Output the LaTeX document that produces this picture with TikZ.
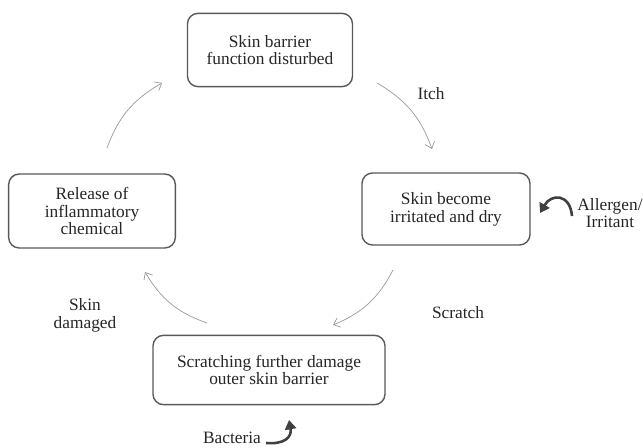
\documentclass[tikz,border=0pt]{standalone}
\usepackage{fontspec}
\setmainfont{Liberation Serif}
\usepackage{tikz}
\usetikzlibrary{arrows.meta,positioning}
\tikzset{>=stealth}

\begin{document}
\begin{tikzpicture}[x=0.03cm, y=-0.03cm,
	every node/.style={font=\fontsize{14.8}{15.2}\selectfont, align=center, text=black!85},
	stage/.style={draw=black!65, line width=1.2pt, rounded corners=9pt, fill=white},
	cyc/.style={->, draw=black!40, line width=0.6pt, >={Straight Barb[length=1.8mm,width=3mm]}},
	curl/.style={-{Triangle[length=2.8mm,width=3.4mm]}, draw=black!75, line width=2.2pt}]
	% page frame
	\useasboundingbox (0,0) rectangle (643,448);
	% the four stages
	\node[stage, minimum width=4.95cm, minimum height=2.2cm] (barrier) at (270,50) {Skin barrier\\function disturbed};
	\node[stage, minimum width=5.04cm, minimum height=2.16cm] (irritated) at (446,209) {Skin become\\irritated and dry};
	\node[stage, minimum width=6.96cm, minimum height=2.08cm] (scratching) at (269,370) {Scratching further damage\\outer skin barrier};
	\node[stage, minimum width=5.0cm, minimum height=2.22cm] (release) at (92,211) {Release of\\inflammatory\\chemical};
	% arrow ends round the cycle
	\coordinate (itchA) at (377,83);
	\coordinate (itchB) at (432,149);
	\coordinate (scrA) at (393,270);
	\coordinate (scrB) at (333,325);
	\coordinate (dmgA) at (207,323);
	\coordinate (dmgB) at (145,272);
	\coordinate (relA) at (107,148);
	\coordinate (relB) at (162,83);
	\draw[cyc] (itchA) to[bend left=20] (itchB);
	\draw[cyc] (scrA) to[bend left=20] (scrB);
	\draw[cyc] (dmgA) to[bend left=20] (dmgB);
	\draw[cyc] (relA) to[bend left=20] (relB);
	% labels on the cycle
	\node (itch) at (431,94) {Itch};
	\node (scratch) at (458,313) {Scratch};
	\node (damaged) at (85,315) {Skin\\damaged};
	% outside triggers
	\node (allergen) at (610,213) {Allergen/\\Irritant};
	\coordinate (allA) at (572,216);
	\coordinate (allB) at (540,213);
	\draw[curl] (allA) to[out=95,in=60,looseness=1.8] (allB);
	\node (bacteria) at (232,438) {Bacteria};
	\coordinate (bacA) at (266,443);
	\coordinate (bacB) at (289,420);
	\draw[curl] (bacA) to[out=-5,in=-80,looseness=1.4] (bacB);
\end{tikzpicture}
\end{document}
